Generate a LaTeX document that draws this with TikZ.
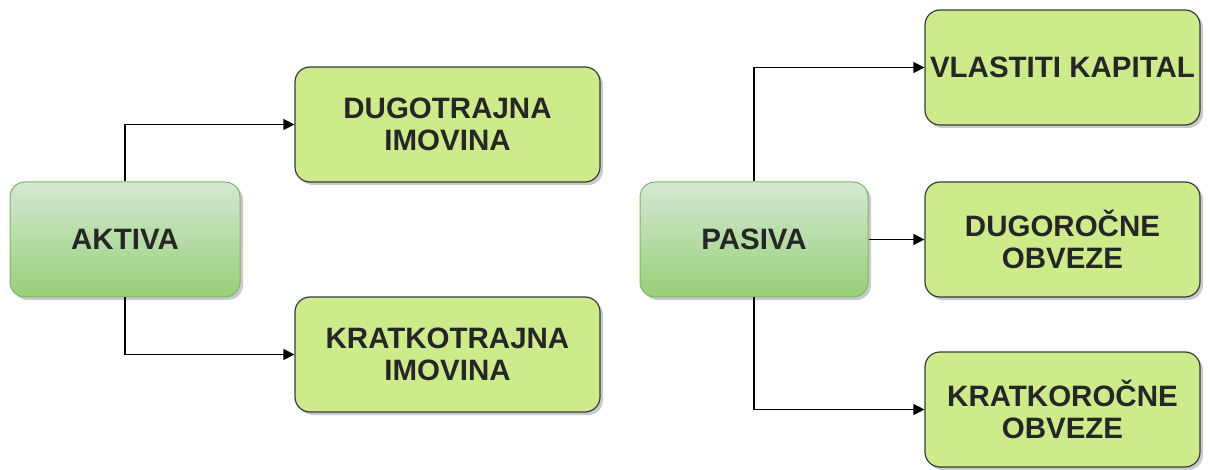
\documentclass[tikz,border=0pt]{standalone}
\usepackage{fontspec}
\setmainfont{Liberation Sans}
\usetikzlibrary{shadows,arrows.meta}
\definecolor{rootTop}{HTML}{D5E8D4}
\definecolor{rootBot}{HTML}{97D077}
\definecolor{rootLine}{HTML}{82B366}
\definecolor{leafFill}{HTML}{CDEB8B}
\definecolor{leafLine}{HTML}{36393D}
\tikzset{
  base/.style={rounded corners=15pt, minimum height=115pt, align=center,
    font=\bfseries\fontsize{29.5}{32}\selectfont, text=black!85, inner xsep=2pt,
    drop shadow={shadow xshift=3pt, shadow yshift=-3pt, fill=black!35, opacity=0.6}},
  rootbox/.style={base, draw=rootLine, line width=1pt, top color=rootTop, bottom color=rootBot, minimum width=230pt},
  leafbox/.style={base, draw=leafLine, line width=1.2pt, fill=leafFill, minimum width=305pt},
  leafboxR/.style={leafbox, minimum width=275pt},
  conn/.style={draw=black, line width=1.2pt, -{Triangle[length=11pt,width=11pt]}}
}
\begin{document}
\begin{tikzpicture}[x=1pt,y=-1pt]
\useasboundingbox (0,0) rectangle (1210,470);
\node[rootbox] (aktiva) at (125,239.5) {AKTIVA};
\node[leafbox] (dug) at (447.5,124.5) {DUGOTRAJNA\\IMOVINA};
\node[leafbox] (krat) at (447.5,354.5) {KRATKOTRAJNA\\IMOVINA};
\node[rootbox, minimum width=228pt] (pasiva) at (754,239.5) {PASIVA};
\node[leafboxR] (vlas) at (1062.5,67.5) {VLASTITI KAPITAL};
\node[leafboxR] (dobv) at (1062.5,239.5) {DUGOROČNE\\OBVEZE};
\node[leafboxR] (kobv) at (1062.5,409.5) {KRATKOROČNE\\OBVEZE};
\draw[conn] (aktiva.north) |- (dug.west);
\draw[conn] (aktiva.south) |- (krat.west);
\draw[conn] (pasiva.north) |- (vlas.west);
\draw[conn] (pasiva.east) -- (dobv.west);
\draw[conn] (pasiva.south) |- (kobv.west);
\end{tikzpicture}
\end{document}
